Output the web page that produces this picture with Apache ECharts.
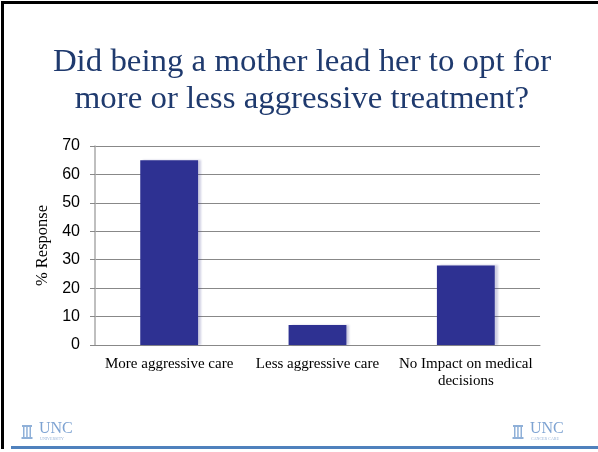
<!DOCTYPE html>
<html><head><meta charset="utf-8">
<script src="https://cdn.jsdelivr.net/npm/echarts@6/dist/echarts.min.js"></script>
<style>html,body{margin:0;padding:0;background:#fff}#c{width:598px;height:452px}</style>
</head><body><div id="c"></div>
<script>
var categories = ['More aggressive care', 'Less aggressive care', 'No Impact on medical\ndecisions'];
var responses = [65, 7, 28];
var yTicks = [0, 10, 20, 30, 40, 50, 60, 70];
var titleLines = ['Did being a mother lead her to opt for', 'more or less aggressive treatment?'];

var SERIF = 'Liberation Serif';
var SANS = 'Liberation Sans';
var chart = echarts.init(document.getElementById('c'), null, {renderer: 'canvas'});
function logo(x, sub) {
  var c = '#8fb0d8';
  return [
    {type: 'rect', shape: {x: x, y: 425, width: 10, height: 2}, style: {fill: c}},
    {type: 'rect', shape: {x: x + 1, y: 427, width: 1.5, height: 10}, style: {fill: c}},
    {type: 'rect', shape: {x: x + 4.2, y: 427, width: 1.5, height: 10}, style: {fill: c}},
    {type: 'rect', shape: {x: x + 7.5, y: 427, width: 1.5, height: 10}, style: {fill: c}},
    {type: 'rect', shape: {x: x - 0.5, y: 437, width: 11, height: 2}, style: {fill: c}},
    {type: 'text', x: x + 17, y: 421, style: {text: 'UNC', fontFamily: SERIF, fontSize: 16, fill: '#7ea3d2'}},
    {type: 'text', x: x + 18, y: 437, style: {text: sub, fontFamily: SERIF, fontSize: 4, fill: '#9bb6d9'}}
  ];
}
var graphics = [
  {type: 'rect', shape: {x: 1, y: 1, width: 600, height: 3}, style: {fill: '#000'}},
  {type: 'rect', shape: {x: 1, y: 1, width: 3, height: 448}, style: {fill: '#000'}},
  {type: 'rect', shape: {x: 11, y: 446, width: 590, height: 3}, style: {fill: '#4f81bd'}}
].concat(titleLines.map(function (t, i) {
  return {type: 'text', x: 302, y: 47 + i * 37, scaleX: 1.06, style: {text: t, fontFamily: SERIF, fontSize: 31, fill: '#1f3a6e', align: 'center'}};
})).concat(logo(22, 'UNIVERSITY')).concat(logo(513, 'CANCER CARE'));

chart.setOption({
  animation: false,
  backgroundColor: '#fff',
  graphic: graphics,
  grid: {left: 95, right: 58, top: 146, bottom: 107, containLabel: false},
  xAxis: {
    type: 'category', data: categories,
    axisLine: {show: true, lineStyle: {color: '#888', width: 1}},
    axisTick: {show: false},
    axisLabel: {color: '#000', fontFamily: SERIF, fontSize: 15, margin: 11, lineHeight: 17, interval: 0}
  },
  yAxis: {
    type: 'value', min: 0, max: 70, interval: 10,
    name: '% Response', nameLocation: 'middle', nameGap: 40,
    nameTextStyle: {color: '#000', fontFamily: SERIF, fontSize: 16.5},
    axisLine: {show: true, lineStyle: {color: '#aaa', width: 1.5}},
    axisTick: {show: true, length: 5, lineStyle: {color: '#888'}},
    axisLabel: {color: '#000', fontFamily: SANS, fontSize: 16, margin: 15,
      formatter: function (v) { return yTicks.indexOf(v) >= 0 ? String(v) : ''; }},
    splitLine: {show: true, lineStyle: {color: '#888', width: 1}}
  },
  series: [{
    type: 'bar', data: responses, barWidth: '39%',
    itemStyle: {color: '#2e3192', shadowColor: 'rgba(60,60,140,0.25)', shadowOffsetX: 3, shadowOffsetY: 0, shadowBlur: 2}
  }]
});
</script></body></html>
